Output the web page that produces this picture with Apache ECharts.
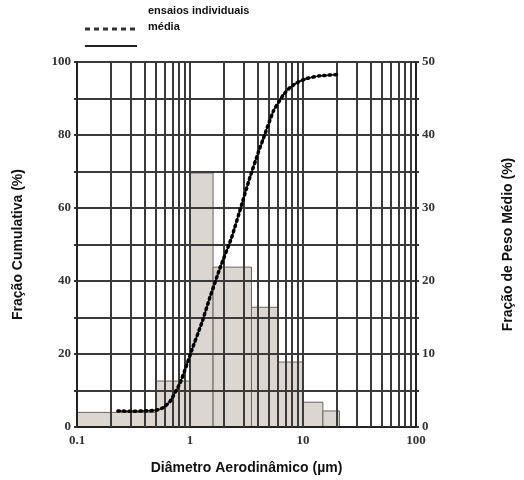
<!DOCTYPE html>
<html>
<head>
<meta charset="utf-8">
<script src="https://cdn.jsdelivr.net/npm/echarts@6/dist/echarts.min.js"></script>
<style>html,body{margin:0;padding:0;background:#fff}#c{width:524px;height:480px}</style>
</head>
<body>
<div id="c"></div>
<script>
// Histogram (right axis, Fração de Peso Médio %)
const binEdges = [0.1, 0.5, 1.0, 1.6, 3.5, 6.0, 10, 15, 21];
const binValues = [2.0, 6.3, 34.8, 21.9, 16.4, 8.9, 3.4, 2.2];
// Cumulative curve (left axis, Fração Cumulativa %)
const cumX = [0.23, 0.3, 0.4, 0.5, 0.58, 0.665, 0.816, 0.935, 1.035, 1.27, 1.5, 1.84, 2.34, 2.87, 3.4, 4.0, 4.45, 5.46, 6.7, 7.67, 8.8, 10.8, 14.1, 20.5];
const cumY = [4.4, 4.3, 4.4, 4.6, 5.3, 7.0, 12.0, 17.0, 21.0, 28.5, 35.5, 43.5, 52, 61, 68.5, 75, 79, 86.5, 91, 93, 94.3, 95.5, 96.2, 96.6];
// Log grid lines
const gridX = [0.2,0.3,0.4,0.5,0.6,0.7,0.8,0.9,1,2,3,4,5,6,7,8,9,10,20,30,40,50,60,70,80,90];
const leftTicks = [0, 20, 40, 60, 80, 100];
const rightTicks = [0, 10, 20, 30, 40, 50];

const histData = binValues.map((v, i) => [binEdges[i], binEdges[i + 1], v]);
const cumData = cumX.map((x, i) => [x, cumY[i]]);

const tickFont = {fontFamily: 'Liberation Serif', fontWeight: 'bold', fontSize: 13, color: '#333'};
const nameFont = {fontFamily: 'Liberation Sans', fontWeight: 'bold', fontSize: 14, color: '#111'};
const gridLineStyle = {color: '#3a3a3a', width: 2};

const chart = echarts.init(document.getElementById('c'), null, {renderer: 'canvas'});
chart.setOption({
  animation: false,
  backgroundColor: '#fff',
  grid: {left: 77, right: 108, top: 62, bottom: 52},
  xAxis: {
    type: 'log', logBase: 10, min: 0.1, max: 100,
    name: 'Diâmetro Aerodinâmico (µm)', nameLocation: 'middle', nameGap: 34,
    nameTextStyle: nameFont,
    axisLine: {lineStyle: {color: '#222', width: 2}},
    axisTick: {show: false},
    splitLine: {show: false},
    axisLabel: Object.assign({margin: 7, formatter: v => String(v)}, tickFont)
  },
  yAxis: [{
    type: 'value', min: 0, max: 100, interval: 10,
    name: 'Fração Cumulativa (%)', nameLocation: 'middle', nameGap: 52,
    nameTextStyle: nameFont,
    axisLine: {show: true, lineStyle: {color: '#222', width: 2}},
    axisTick: {show: true, length: 3, lineStyle: {color: '#333', width: 2}},
    splitLine: {show: true, lineStyle: gridLineStyle},
    axisLabel: Object.assign({margin: 6, formatter: v => leftTicks.indexOf(v) >= 0 ? String(v) : ''}, tickFont)
  }, {
    type: 'value', min: 0, max: 50, interval: 5,
    name: 'Fração de Peso Médio (%)', nameLocation: 'middle', nameGap: 85,
    nameTextStyle: nameFont,
    axisLine: {show: true, lineStyle: {color: '#222', width: 2}},
    axisTick: {show: true, length: 3, lineStyle: {color: '#333', width: 2}},
    splitLine: {show: false},
    axisLabel: Object.assign({margin: 6, formatter: v => rightTicks.indexOf(v) >= 0 ? String(v) : ''}, tickFont)
  }],
  series: [{
    type: 'custom', yAxisIndex: 1, z: -1,
    data: histData,
    encode: {x: [0, 1], y: 2},
    renderItem: function (params, api) {
      const p0 = api.coord([api.value(0), 0]);
      const p1 = api.coord([api.value(1), api.value(2)]);
      return {
        type: 'rect',
        shape: {x: p0[0], y: p1[1], width: p1[0] - p0[0], height: p0[1] - p1[1]},
        style: {fill: '#dcd6d0', stroke: '#666', lineWidth: 1}
      };
    }
  }, {
    type: 'line', yAxisIndex: 0, z: 1, silent: true,
    data: [[0.1, 0], [100, 0]], showSymbol: false,
    lineStyle: {opacity: 0},
    markLine: {
      silent: true, symbol: 'none', label: {show: false},
      lineStyle: {color: '#3a3a3a', width: 2, type: 'solid'},
      data: gridX.map(v => ({xAxis: v}))
    }
  }, {
    name: 'média', type: 'line', yAxisIndex: 0, z: 5,
    data: cumData, smooth: 0.15, showSymbol: false,
    lineStyle: {color: '#222', width: 1.5}
  }, {
    name: 'ensaios individuais', type: 'line', yAxisIndex: 0, z: 6,
    data: cumData, smooth: 0.15, showSymbol: false,
    lineStyle: {color: '#000', width: 3.5, type: [1.5, 4], cap: 'round'}
  }],
  graphic: [
    {type: 'text', left: 148, top: 5, style: {text: 'ensaios individuais', font: 'bold 11px "Liberation Sans"', fill: '#111'}},
    {type: 'text', left: 148, top: 21, style: {text: 'média', font: 'bold 11px "Liberation Sans"', fill: '#111'}},
    {type: 'line', shape: {x1: 85, y1: 29, x2: 137, y2: 29}, style: {stroke: '#333', lineWidth: 3, lineDash: [5, 4]}},
    {type: 'line', shape: {x1: 85, y1: 46, x2: 137, y2: 46}, style: {stroke: '#222', lineWidth: 2}}
  ]
});
</script>
</body>
</html>
